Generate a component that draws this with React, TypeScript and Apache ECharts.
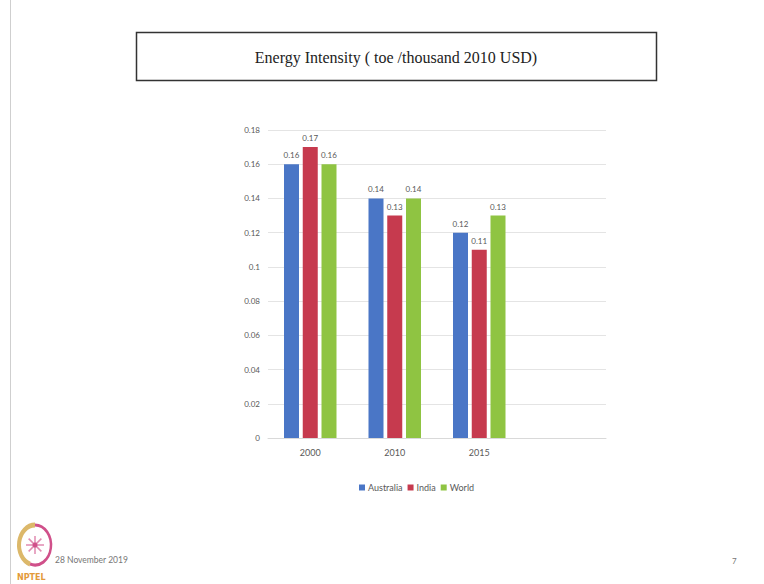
import React, { useEffect, useRef } from "react";
import * as echarts from "echarts";

const categories = ["2000", "2010", "2015", ""];
const australia = [0.16, 0.14, 0.12, null];
const india = [0.17, 0.13, 0.11, null];
const world = [0.16, 0.14, 0.13, null];
const seriesNames = ["Australia", "India", "World"];
const colors = ["#4a76c6", "#c63a4e", "#8fc442"];
const titleText = "Energy Intensity ( toe /thousand 2010 USD)";
const dateText = "28 November 2019";
const pageText = "7";

export default function App() {
  const ref = useRef<HTMLDivElement>(null);
  useEffect(() => {
    if (!ref.current) return;
    const chart = echarts.init(ref.current, undefined, { renderer: "svg" });
    const labelFont = "Lato, 'Open Sans', sans-serif";
    const mk = (name: string, data: (number | null)[], color: string) => ({
      name,
      type: "bar",
      data,
      barWidth: 15,
      barGap: "25%",
      itemStyle: { color },
      label: {
        show: true,
        position: "top",
        distance: 5,
        fontSize: 8,
        color: "#595959",
        fontFamily: labelFont,
        formatter: (p: any) => (p.value == null ? "" : String(p.value)),
      },
    });
    const cx = 35;
    const cy = 545;
    chart.setOption({
      animation: false,
      backgroundColor: "#ffffff",
      color: colors,
      grid: { left: 268, right: 158, top: 130, bottom: 146, containLabel: false },
      xAxis: {
        type: "category",
        data: categories,
        axisLine: { show: true, lineStyle: { color: "#d9d9d9" } },
        axisTick: { show: false },
        axisLabel: { fontSize: 9, color: "#595959", fontFamily: labelFont, margin: 10 },
      },
      yAxis: {
        type: "value",
        min: 0,
        max: 0.18,
        interval: 0.02,
        axisLine: { show: false },
        axisTick: { show: false },
        splitLine: { lineStyle: { color: "#e4e4e4" } },
        axisLabel: {
          fontSize: 8,
          color: "#595959",
          fontFamily: labelFont,
          margin: 8,
          formatter: (v: number) => String(parseFloat(v.toFixed(2))),
        },
      },
      legend: {
        data: seriesNames,
        left: 354,
        top: 478,
        icon: "rect",
        itemWidth: 6,
        itemHeight: 6,
        itemGap: 5,
        textStyle: { fontSize: 9, color: "#595959", fontFamily: labelFont, padding: [0, 0, 0, -2] },
      },
      series: [
        mk(seriesNames[0], australia, colors[0]),
        mk(seriesNames[1], india, colors[1]),
        mk(seriesNames[2], world, colors[2]),
      ],
      graphic: [
        { type: "line", shape: { x1: 10.5, y1: 0, x2: 10.5, y2: 584 }, style: { stroke: "#cfcfcf", lineWidth: 1 } },
        {
          type: "rect",
          shape: { x: 136.5, y: 32.5, width: 520, height: 48 },
          style: { fill: "#ffffff", stroke: "#333333", lineWidth: 1.5 },
        },
        {
          type: "text",
          x: 396,
          y: 57,
          style: {
            text: titleText,
            fontSize: 16,
            fontFamily: "'Liberation Serif', 'DejaVu Serif', serif",
            fill: "#222222",
            align: "center",
            verticalAlign: "middle",
          },
        },
        {
          type: "arc",
          x: cx,
          y: cy,
          scaleY: 1.25,
          shape: { cx: 0, cy: 0, r: 16, startAngle: Math.PI * 0.6, endAngle: Math.PI * 1.5 },
          style: { stroke: "#dcb86a", lineWidth: 4, fill: "none" },
        },
        {
          type: "arc",
          x: cx,
          y: cy,
          scaleY: 1.25,
          shape: { cx: 0, cy: 0, r: 16, startAngle: -Math.PI * 0.5, endAngle: Math.PI * 0.6 },
          style: { stroke: "#d0508a", lineWidth: 2.5, fill: "none" },
        },
        ...[0, 1, 2, 3].map((i) => ({
          type: "line",
          shape: {
            x1: cx + 9 * Math.cos((i * Math.PI) / 4),
            y1: cy + 9 * Math.sin((i * Math.PI) / 4),
            x2: cx - 9 * Math.cos((i * Math.PI) / 4),
            y2: cy - 9 * Math.sin((i * Math.PI) / 4),
          },
          style: { stroke: "#e08ab0", lineWidth: 1.5 },
        })),
        { type: "circle", shape: { cx, cy, r: 2.5 }, style: { fill: "#d0508a" } },
        {
          type: "text",
          x: 17,
          y: 573,
          style: { text: "NPTEL", fontSize: 8, fontWeight: "bold", fill: "#e39a3a", fontFamily: "'DejaVu Sans', sans-serif" },
        },
        {
          type: "text",
          x: 55,
          y: 560,
          style: { text: dateText, fontSize: 8.5, fill: "#777777", fontFamily: labelFont, verticalAlign: "middle" },
        },
        {
          type: "text",
          x: 732,
          y: 557,
          style: { text: pageText, fontSize: 8, fill: "#777777", fontFamily: labelFont },
        },
      ],
    });
    return () => chart.dispose();
  }, []);
  return <div ref={ref} style={{ position: "fixed", left: 0, top: 0, width: 764, height: 584 }} />;
}
